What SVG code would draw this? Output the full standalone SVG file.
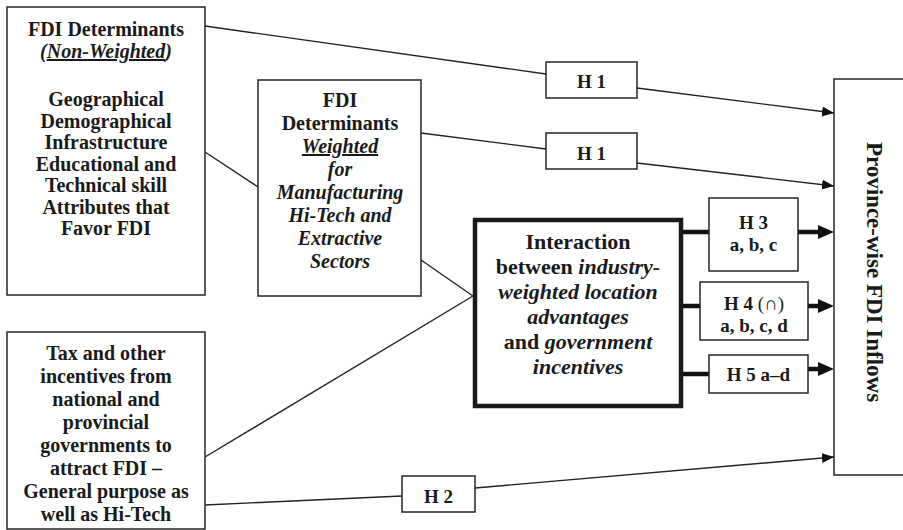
<svg xmlns="http://www.w3.org/2000/svg" width="903" height="530" viewBox="0 0 903 530">
<defs>
<style>
.box{fill:#fff;stroke:#262626;stroke-width:1.5}
.thick{fill:#fff;stroke:#1a1a1a;stroke-width:4.5}
.ln{fill:none;stroke:#222;stroke-width:1.4}
.tk{fill:none;stroke:#111;stroke-width:4.5}
text{font-family:"Liberation Serif","Times New Roman",serif;font-weight:bold;fill:#1a1a1a;text-anchor:middle}
.t20{font-size:20px}
.t22{font-size:22px}
.h{font-size:19px}
.i{font-style:italic}
.u{text-decoration:underline}
</style>
<marker id="arr" markerUnits="userSpaceOnUse" markerWidth="13" markerHeight="11" refX="12" refY="5" orient="auto" viewBox="0 0 13 11">
<path d="M0,0 L12,5 L0,10 z" fill="#111"/>
</marker>
<marker id="arrT" markerUnits="userSpaceOnUse" markerWidth="17" markerHeight="15" refX="0" refY="7" orient="auto" viewBox="0 0 17 15">
<path d="M0,0 L16,7 L0,14 z" fill="#111"/>
</marker>
</defs>
<rect width="903" height="530" fill="#fff"/>

<g id="connectors">
<polyline class="ln" points="205,26 546,74"/>
<line class="ln" x1="637" y1="88" x2="834" y2="113" marker-end="url(#arr)"/>
<line class="ln" x1="421" y1="133" x2="546" y2="149"/>
<line class="ln" x1="637" y1="163" x2="834" y2="186" marker-end="url(#arr)"/>
<line class="ln" x1="205" y1="152" x2="258" y2="187"/>
<line class="ln" x1="421" y1="260" x2="473" y2="296"/>
<line class="ln" x1="205" y1="457" x2="473" y2="296"/>
<line class="ln" x1="205" y1="505" x2="402" y2="496"/>
<line class="ln" x1="475" y1="488" x2="834" y2="457" marker-end="url(#arr)"/>
<line class="tk" x1="683" y1="232" x2="709" y2="232"/>
<line class="tk" x1="798" y1="232" x2="818" y2="232" marker-end="url(#arrT)"/>
<line class="tk" x1="683" y1="306" x2="700" y2="306"/>
<line class="tk" x1="808" y1="306" x2="818" y2="306" marker-end="url(#arrT)"/>
<line class="tk" x1="683" y1="374" x2="709" y2="374"/>
<polyline class="tk" points="808,369 818,369" marker-end="url(#arrT)"/>
</g>

<g id="node-nonweighted">
<rect class="box" x="7" y="7" width="198" height="288"/>
<text class="t20" x="106" y="36">FDI Determinants</text>
<text class="t20 i" x="106" y="58">(<tspan class="u">Non-Weighted</tspan>)</text>
<text class="t20" x="106" y="106">Geographical</text>
<text class="t20" x="106" y="127.5">Demographical</text>
<text class="t20" x="106" y="149">Infrastructure</text>
<text class="t20" x="106" y="170.5">Educational and</text>
<text class="t20" x="106" y="192">Technical skill</text>
<text class="t20" x="106" y="213.5">Attributes that</text>
<text class="t20" x="106" y="235">Favor FDI</text>
</g>

<g id="node-weighted">
<rect class="box" x="258" y="80" width="163" height="216"/>
<text class="t20" x="340" y="107">FDI</text>
<text class="t20" x="340" y="130">Determinants</text>
<text class="t20 i u" x="340" y="153">Weighted</text>
<text class="t20 i" x="340" y="176">for</text>
<text class="t20 i" x="340" y="199">Manufacturing</text>
<text class="t20 i" x="340" y="222">Hi-Tech and</text>
<text class="t20 i" x="340" y="245">Extractive</text>
<text class="t20 i" x="340" y="268">Sectors</text>
</g>

<g id="node-tax">
<rect class="box" x="7" y="332" width="198" height="197"/>
<text class="t20" x="106" y="360">Tax and other</text>
<text class="t20" x="106" y="383">incentives from</text>
<text class="t20" x="106" y="406">national and</text>
<text class="t20" x="106" y="429">provincial</text>
<text class="t20" x="106" y="452">governments to</text>
<text class="t20" x="106" y="475">attract FDI –</text>
<text class="t20" x="106" y="498">General purpose as</text>
<text class="t20" x="106" y="521">well as Hi-Tech</text>
</g>

<g id="node-interaction">
<rect class="thick" x="475" y="220" width="206" height="186"/>
<text class="t22" x="578" y="249">Interaction</text>
<text class="t22" x="578" y="274">between <tspan class="i">industry-</tspan></text>
<text class="t22 i" x="578" y="299">weighted location</text>
<text class="t22 i" x="578" y="324">advantages</text>
<text class="t22" x="578" y="349">and <tspan class="i">government</tspan></text>
<text class="t22 i" x="578" y="374">incentives</text>
</g>

<g id="node-h1a">
<rect class="box" x="546" y="62" width="91" height="36"/>
<text class="h" x="591.5" y="88">H 1</text>
</g>
<g id="node-h1b">
<rect class="box" x="546" y="133" width="91" height="36"/>
<text class="h" x="591.5" y="160">H 1</text>
</g>
<g id="node-h2">
<rect class="box" x="402" y="476" width="73" height="36"/>
<text class="h" x="438.5" y="503">H 2</text>
</g>
<g id="node-h3">
<rect class="box" x="709" y="198" width="89" height="73"/>
<text class="h" x="753.5" y="229">H 3</text>
<text class="h" x="753.5" y="251">a, b, c</text>
</g>
<g id="node-h4">
<rect class="box" x="700" y="282" width="108" height="58"/>
<text class="h" x="754" y="310">H 4 <tspan font-weight="normal">(∩)</tspan></text>
<text class="h" x="754" y="332">a, b, c, d</text>
</g>
<g id="node-h5">
<rect class="box" x="709" y="355" width="99" height="38"/>
<text class="h" x="758.5" y="381">H 5 a–d</text>
</g>

<g id="node-inflows">
<rect class="box" x="834" y="79" width="80" height="396"/>
<text transform="translate(867,272) rotate(90)" x="0" y="0" style="font-size:23px">Province-wise FDI Inflows</text>
</g>
</svg>
